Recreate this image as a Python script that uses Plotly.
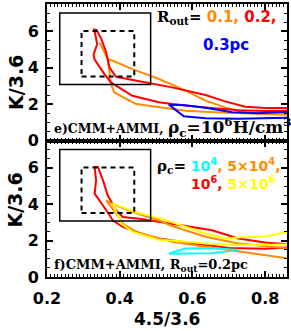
import plotly.graph_objects as go
from plotly.subplots import make_subplots

# ---------------- data: panel e (rho_c = 1e6, different R_out) ----------------
e_orange_x = [0.863, 0.799, 0.745, 0.69, 0.636, 0.581, 0.508, 0.435, 0.381, 0.367, 0.345,
              0.358, 0.367, 0.376, 0.385, 0.445, 0.508, 0.581, 0.663, 0.754, 0.863]
e_orange_y = [1.55, 1.49, 1.55, 1.82, 2.19, 2.74, 3.38, 3.92, 4.38, 4.47, 5.38,
              4.8, 4.47, 3.1, 2.64, 2.0, 1.82, 1.64, 1.55, 1.49, 1.42]
e_red_x = [0.863, 0.8, 0.745, 0.69, 0.636, 0.544, 0.454, 0.40, 0.39, 0.372, 0.362, 0.349, 0.336,
           0.330, 0.338, 0.328, 0.331, 0.358, 0.376, 0.39, 0.435, 0.508, 0.544, 0.636, 0.726, 0.80, 0.863]
e_red_y = [1.78, 1.78, 1.85, 2.15, 2.5, 2.92, 3.25, 3.43, 3.5, 4.0, 4.9, 5.6, 6.08,
           6.10, 5.3, 4.72, 4.45, 3.65, 3.19, 3.01, 2.46, 2.10, 2.0, 1.82, 1.66, 1.62, 1.64]
e_blue_x = [0.863, 0.78, 0.708, 0.636, 0.571, 0.535, 0.576, 0.636, 0.726, 0.863]
e_blue_y = [1.58, 1.5, 1.55, 1.8, 1.95, 1.97, 1.33, 1.22, 1.19, 1.25]

# ---------------- data: panel f (R_out = 0.2pc, different rho_c) ----------------
f_red_x = [0.863, 0.8, 0.726, 0.654, 0.581, 0.508, 0.454, 0.408, 0.39, 0.367, 0.354, 0.34,
           0.331, 0.335, 0.331, 0.363, 0.381, 0.408, 0.472, 0.508, 0.6, 0.7, 0.8, 0.863]
f_red_y = [1.8, 1.9, 2.12, 2.57, 2.8, 3.03, 3.2, 3.3, 3.67, 4.49, 5.31, 6.04,
           6.04, 5.31, 4.58, 3.67, 3.12, 2.75, 2.3, 2.12, 1.85, 1.6, 1.55, 1.62]
f_orange_x = [0.863, 0.726, 0.636, 0.544, 0.508, 0.454, 0.40, 0.363,
              0.39, 0.408, 0.445, 0.508, 0.544, 0.636, 0.726, 0.863]
f_orange_y = [1.57, 1.84, 2.21, 2.8, 3.12, 3.45, 3.85, 4.2,
              3.49, 2.94, 2.48, 2.12, 1.93, 1.66, 1.39, 1.02]
f_yellow_x = [0.863, 0.8, 0.745, 0.69, 0.636, 0.544, 0.508, 0.454, 0.381,
              0.404, 0.435, 0.508, 0.544, 0.636, 0.726, 0.863]
f_yellow_y = [2.48, 2.22, 2.2, 2.12, 2.39, 3.0, 3.25, 3.5, 4.03,
              2.94, 2.48, 2.03, 2.0, 1.84, 1.75, 1.79]
f_cyan_x = [0.535, 0.581, 0.65, 0.726, 0.65, 0.535]
f_cyan_y = [1.3, 1.57, 1.6, 1.48, 1.3, 1.28]

# boxes
solid_box = [0.235, 0.485, 3.08, 7.0]
dashed_box = [0.295, 0.44, 3.52, 6.02]

x_tickvals = [0.2, 0.4, 0.6, 0.8]
y_tickvals = [0, 2, 4, 6]

ORANGE = '#FF8C00'
RED = '#FF0000'
BLUE = '#0000FF'
CYAN = '#00FFFF'
YELLOW = '#FFFF00'

fig = make_subplots(rows=2, cols=1, shared_xaxes=True, vertical_spacing=0)

def add(x, y, color, row):
    fig.add_trace(go.Scatter(x=x, y=y, mode='lines', line=dict(color=color, width=2),
                             showlegend=False, hoverinfo='skip'), row=row, col=1)

add(e_orange_x, e_orange_y, ORANGE, 1)
add(e_red_x, e_red_y, RED, 1)
add(e_blue_x, e_blue_y, BLUE, 1)

add(f_red_x, f_red_y, RED, 2)
add(f_orange_x, f_orange_y, ORANGE, 2)
add(f_yellow_x, f_yellow_y, YELLOW, 2)
add(f_cyan_x, f_cyan_y, CYAN, 2)

for yref in ['y', 'y2']:
    fig.add_shape(type='rect', xref='x', yref=yref, x0=solid_box[0], x1=solid_box[1],
                  y0=solid_box[2], y1=solid_box[3], line=dict(color='black', width=1.5))
    fig.add_shape(type='rect', xref='x', yref=yref, x0=dashed_box[0], x1=dashed_box[1],
                  y0=dashed_box[2], y1=dashed_box[3], line=dict(color='black', width=2, dash='5px,4px'))

axis_common = dict(showline=True, linecolor='black', linewidth=2, mirror='allticks',
                   ticks='inside', ticklen=6, tickwidth=1.5, tickcolor='black',
                   showgrid=False, zeroline=False,
                   tickfont=dict(family='DejaVu Sans', size=16, color='black', weight='bold'))

fig.update_xaxes(range=[0.2, 0.86], tickvals=x_tickvals,
                 minor=dict(dtick=0.01, ticklen=3, tickwidth=1, tickcolor='black', ticks='inside'),
                 **axis_common)
fig.update_xaxes(showticklabels=False, row=1, col=1)
fig.update_xaxes(ticklabelstandoff=6, row=2, col=1)
fig.update_yaxes(range=[0, 7.5], tickvals=y_tickvals,
                 minor=dict(dtick=0.5, ticklen=3, tickwidth=1, tickcolor='black', ticks='inside'),
                 ticklabelstandoff=3, **axis_common)

W, H = 291, 331
L, R, T, B = 47, 2, 3, 54
pw, ph = W - L - R, H - T - B

def px(xp):
    return (xp - L) / pw

def py(yp):
    return (H - B - yp) / ph

SERIF = 'DejaVu Serif'
SANS = 'DejaVu Sans'

def ann(x, y, text, size=13, family=SERIF, anchor='left', angle=0):
    fig.add_annotation(x=px(x), y=py(y), xref='paper', yref='paper', text=text,
                       showarrow=False, xanchor=anchor, yanchor='middle', textangle=angle,
                       font=dict(family=family, size=size, color='black', weight='bold'))

def c(text, color, size=15):
    return f"<span style='color:{color};font-family:{SANS};font-size:{size}px'>{text}</span>"

ann(156, 17, "R<sub>out</sub>=" + c(" 0.1, ", ORANGE) + c("0.2,", RED), size=15)
ann(202, 44, c("0.3pc", BLUE))
ann(52, 127, "e)CMM+AMMI, <span style='font-size:17px'>ρ<sub>c</sub>=10<sup>6</sup>H/cm<sup>3</sup></span>", size=12.5)

ann(156, 166, "ρ<sub>c</sub>=" + c(" 10<sup>4</sup>", CYAN, 14) + c(", ", ORANGE, 14) + c("5×10<sup>4</sup>,", ORANGE, 14), size=15)
ann(190, 183, c("10<sup>6</sup>", RED, 14) + c(", ", RED, 14) + c("5×10<sup>6</sup>", YELLOW, 14))
ann(52, 265, "f)CMM+AMMI, R<sub>out</sub>=0.2pc", size=13)

ann(15, 82, "K/3.6", size=19, family=SANS, anchor='center', angle=-90)
ann(15, 200, "K/3.6", size=19, family=SANS, anchor='center', angle=-90)
ann(168, 319, "4.5/3.6", size=17, family=SANS, anchor='center')

fig.update_layout(width=W, height=H, margin=dict(l=L, r=R, t=T, b=B),
                  paper_bgcolor='white', plot_bgcolor='white')

fig.write_html("out.html", config={'displayModeBar': False},
               post_script="document.body.style.margin='0';document.body.style.overflow='hidden';")
